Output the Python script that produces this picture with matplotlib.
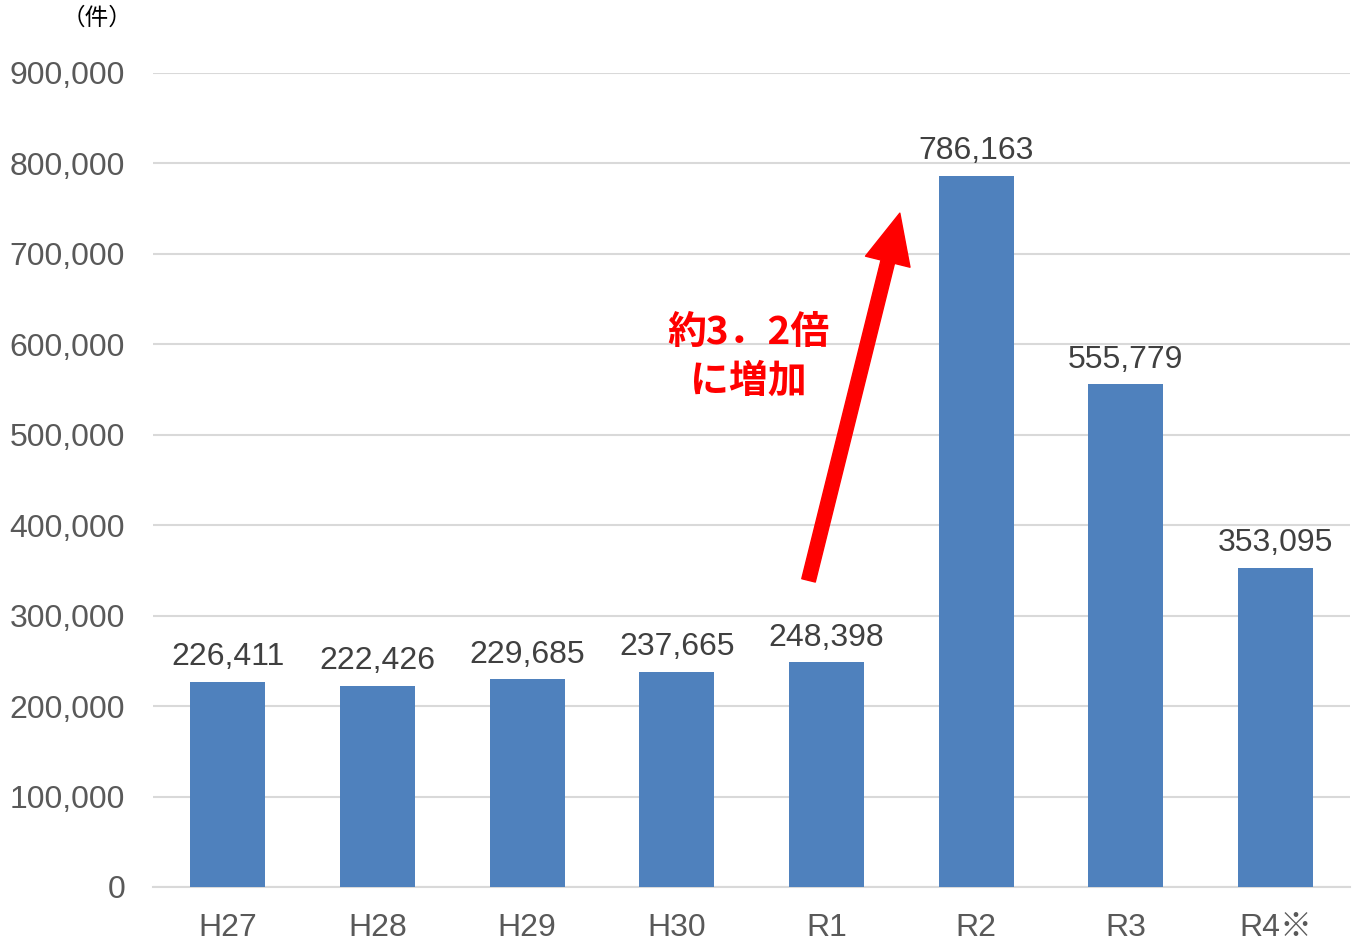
import matplotlib
matplotlib.use("Agg")
import matplotlib.pyplot as plt
from matplotlib.ticker import FuncFormatter

# data
categories = ["H27", "H28", "H29", "H30", "R1", "R2", "R3", "R4※"]
counts = [226411, 222426, 229685, 237665, 248398, 786163, 555779, 353095]
y_ticks = [0, 100000, 200000, 300000, 400000, 500000, 600000, 700000, 800000, 900000]

plt.rcParams["font.family"] = ["Liberation Sans", "Noto Sans CJK JP", "DejaVu Sans"]

BAR_COLOR = "#4F81BD"
GRID_COLOR = "#D9D9D9"
TICK_COLOR = "#595959"
LABEL_COLOR = "#404040"

fig = plt.figure(figsize=(13.53, 9.44), dpi=100)
ax = fig.add_axes([0.1131, 0.0604, 0.8849, 0.8623])

x = list(range(len(categories)))
ax.bar(x, counts, width=0.5, color=BAR_COLOR, zorder=3)

# value labels above each bar
for xi, v in zip(x, counts):
    ax.annotate(f"{v:,}", xy=(xi, v), xytext=(0, 7), textcoords="offset points",
                ha="center", va="bottom", fontsize=23, color=LABEL_COLOR)

ax.set_xlim(-0.5, len(categories) - 0.5)
ax.set_ylim(0, 900000)
ax.set_yticks(y_ticks)
ax.yaxis.set_major_formatter(FuncFormatter(lambda v, _: f"{int(v):,}"))
ax.set_xticks(x)
ax.set_xticklabels(categories)
ax.tick_params(axis="y", length=0, pad=20, labelsize=23, labelcolor=TICK_COLOR)
ax.tick_params(axis="x", length=0, pad=19, labelsize=23, labelcolor=TICK_COLOR)

ax.grid(axis="y", color=GRID_COLOR, linewidth=1.5, zorder=0)
for side in ["left", "right", "top"]:
    ax.spines[side].set_visible(False)
ax.spines["bottom"].set_color(GRID_COLOR)
ax.spines["bottom"].set_linewidth(1.5)

# red arrow from R1 toward R2
ax.annotate("", xy=(4.49, 745000), xytext=(3.88, 339000),
            arrowprops=dict(arrowstyle="simple,head_length=3.6,head_width=3.3,tail_width=1.0",
                            mutation_scale=10, color="#FF0000", shrinkA=0, shrinkB=0),
            zorder=5)
ax.text(3.48, 586000, "約3．2倍\nに増加", ha="center", va="center", fontsize=28,
        fontweight="bold", color="#FF0000", linespacing=1.3,
        family=["Noto Sans CJK JP", "DejaVu Sans"], zorder=6)

fig.text(97 / 1353, 1 - 18 / 944, "（件）", ha="center", va="center", fontsize=17,
         color="#000000", family=["Noto Sans CJK JP", "DejaVu Sans"])

fig.savefig("out.png", dpi=100)
